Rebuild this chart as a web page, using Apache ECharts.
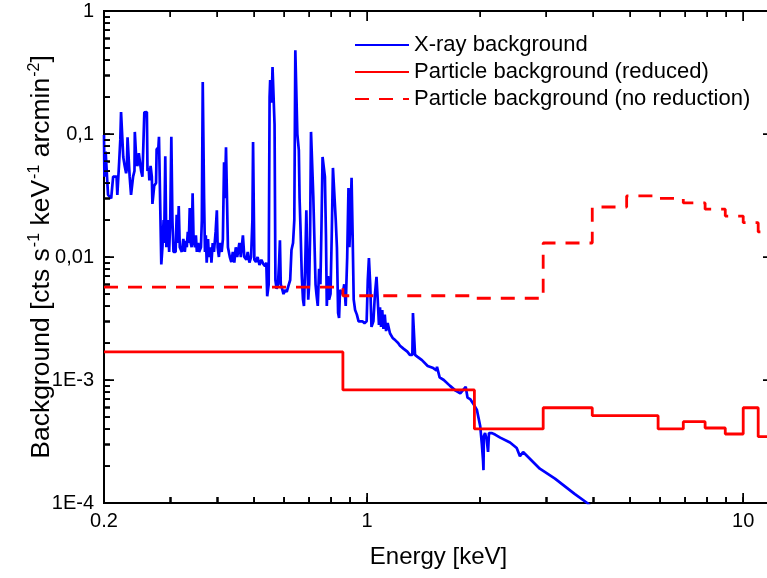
<!DOCTYPE html>
<html><head><meta charset="utf-8">
<script src="https://cdn.jsdelivr.net/npm/echarts@6/dist/echarts.min.js"></script>
<style>html,body{margin:0;padding:0;background:#fff}#c{width:767px;height:578px}</style>
</head><body><div id="c"></div>
<script>
// X-ray background spectrum (energy in keV, background in cts s^-1 keV^-1 arcmin^-2)
const xrayE = [
0.200,0.2005,0.202,0.204,0.205,0.209,0.211,0.2115,0.216,0.217,0.219,0.2195,0.221,0.222,0.224,0.225,0.227,0.229,0.230,0.231,
0.233,0.234,0.236,0.238,0.239,0.241,0.2415,0.243,0.2435,0.245,0.247,0.2475,0.250,0.251,0.253,0.255,0.256,0.260,0.261,0.263,
0.264,0.266,0.268,0.269,0.271,0.272,0.275,0.276,0.279,0.280,0.283,0.284,0.286,0.288,0.289,0.291,0.293,0.296,0.298,0.300,
0.302,0.304,0.306,0.308,
0.310,0.312,0.314,0.316,0.318,0.322,0.325,0.328,0.330,0.332,0.334,0.336,0.338,0.340,0.342,0.344,0.346,0.349,0.351,0.353,
0.356,0.358,0.362,0.364,0.366,0.368,0.369,0.371,0.373,0.375,0.378,0.380,0.384,0.386,0.389,0.392,0.396,0.399,0.401,0.404,
0.407,0.411,0.414,0.417,0.419,0.422,0.425,0.427,0.432,0.436,0.440,0.444,0.448,0.452,0.458,0.462,0.468,0.472,0.478,0.482,
0.487,0.492,0.496,0.498,0.500,0.502,0.507,0.512,0.518,0.524,0.530,0.536,0.540,0.543,0.546,0.548,0.551,0.553,0.556,0.558,
0.561,0.566,0.568,0.571,0.575,0.580,0.584,0.587,0.590,0.595,0.600,0.606,0.612,0.618,0.625,0.630,0.636,0.641,0.645,0.650,
0.653,0.659,0.662,0.666,0.671,0.676,0.680,0.686,0.690,0.694,0.698,0.702,0.706,0.710,0.716,0.720,0.726,0.730,0.734,0.740,
0.746,0.752,0.757,0.762,0.769,0.773,0.778,0.782,0.788,0.793,0.800,0.806,0.812,0.822,0.826,0.832,0.838,0.843,0.848,0.855,
0.862,0.870,0.878,0.886,0.893,0.898,0.904,0.910,0.916,0.922,0.930,0.940,0.950,0.960,0.972,0.985,0.998,1.005,1.012,1.020,
1.028,1.040,1.050,1.060,1.068,1.076,1.083,1.090,1.098,1.106,1.115,1.124,1.135,1.151,1.17,1.19,1.21,1.224,1.25,1.28,
1.30,1.32,1.325,1.334,1.342,1.36,1.40,1.45,1.50,1.53,1.535,1.56,1.60,1.66,1.72,1.77,1.83,1.85,1.88,1.93,
1.96,2.00,2.02,2.035,2.04,2.045,2.06,2.08,2.098,2.11,2.15,2.19,2.26,2.40,2.50,2.55,2.60,2.88,3.16,3.57,
3.85,4.5
];
const xrayBg = [
0.098,0.045,0.072,0.072,0.032,0.030,0.031,0.045,0.045,0.032,0.032,0.060,0.090,0.151,0.151,0.065,0.055,0.048,0.052,0.094,
0.094,0.045,0.032,0.031,0.045,0.050,0.104,0.104,0.065,0.055,0.058,0.070,0.070,0.050,0.045,0.045,0.150,0.151,0.050,0.053,
0.042,0.055,0.045,0.027,0.027,0.038,0.040,0.075,0.078,0.095,0.095,0.0087,0.012,0.020,0.013,0.066,0.012,0.020,0.011,0.020,
0.095,0.020,0.011,0.011,
0.011,0.022,0.013,0.026,0.012,0.011,0.014,0.011,0.0135,0.012,0.016,0.013,0.025,0.013,0.012,0.033,0.014,0.012,0.015,0.011,
0.013,0.011,0.012,0.020,0.265,0.265,0.030,0.011,0.015,0.009,0.014,0.010,0.012,0.009,0.013,0.011,0.016,0.024,0.012,0.010,
0.013,0.011,0.014,0.059,0.030,0.078,0.078,0.012,0.010,0.0091,0.011,0.009,0.012,0.010,0.013,0.010,0.015,0.010,0.0095,0.011,
0.009,0.010,0.020,0.086,0.086,0.0095,0.0091,0.010,0.0086,0.0095,0.0088,0.0084,0.009,0.0048,0.0047,0.006,0.20,0.275,0.275,0.18,
0.35,0.35,0.12,0.0065,0.0055,0.006,0.009,0.0137,0.006,0.0055,0.005,0.0054,0.0052,0.0058,0.0065,0.0114,0.013,0.020,0.48,0.48,
0.10,0.074,0.030,0.0166,0.007,0.0045,0.004,0.010,0.024,0.010,0.0045,0.006,0.015,0.104,0.104,0.031,0.030,0.006,0.005,0.004,
0.008,0.006,0.018,0.065,0.065,0.045,0.015,0.004,0.007,0.0045,0.005,0.015,0.053,0.053,0.020,0.012,0.0035,0.0032,0.0054,0.0055,
0.005,0.006,0.004,0.010,0.0364,0.012,0.020,0.044,0.015,0.0045,0.0037,0.0034,0.0030,0.0031,0.0030,0.0029,0.0030,0.0065,0.0098,0.006,
0.0027,0.0030,0.0050,0.0069,0.0045,0.0028,0.0039,0.0027,0.0037,0.0026,0.0034,0.0025,0.0029,0.0024,0.0022,0.0021,0.0020,0.0019,0.0018,0.0017,
0.0016,0.0016,0.0035,0.0035,0.0016,0.00155,0.00145,0.0013,0.00125,0.0012,0.00128,0.00105,0.0010,0.0009,0.00082,0.00078,0.00088,0.00072,0.00070,0.00062,
0.00057,0.00042,0.00030,0.00022,0.000185,0.00035,0.00037,0.00033,0.00026,0.00037,0.00037,0.00036,0.00034,0.00031,0.00028,0.00024,0.00026,0.00019,0.000158,0.000118,
0.0001,0.00006
];
// Particle background, reduced (bin start energies and levels)
const reducedE  = [0.2, 0.863, 1.93, 2.94, 3.97, 5.94, 6.93, 7.92, 8.96, 10.0, 10.96, 12];
const reducedBg = [1.69e-3, 8.3e-4, 4.0e-4, 5.95e-4, 5.13e-4, 4.0e-4, 4.58e-4, 4.07e-4, 3.64e-4, 5.95e-4, 3.46e-4, 3.46e-4];
// Particle background, no reduction
const noRedE  = [0.2, 0.863, 1.93, 2.94, 3.97, 4.9, 5.94, 6.93, 7.92, 8.96, 10.0, 10.96, 12];
const noRedBg = [0.0057, 0.00484, 0.00462, 0.0130, 0.0255, 0.0314, 0.0300, 0.0275, 0.0245, 0.0215, 0.0190, 0.0160, 0.0160];

const seriesNames = ['X-ray background', 'Particle background (reduced)', 'Particle background (no reduction)'];
// Axis ticks and labels
const xTickValues = [0.2, 1, 10];
const xTickLabels = ['0.2', '1', '10'];
const xMajorTicks = [1, 10];
const xMinorTicks = [0.3,0.4,0.5,0.6,0.7,0.8,0.9,2,3,4,5,6,7,8,9];
const yTickValues = [1, 0.1, 0.01, 0.001, 0.0001];
const yTickLabels = ['1', '0,1', '0,01', '1E-3', '1E-4'];
const yMajorTicks = [0.1, 0.01, 0.001];
const yMinorTicks = [];
[1e-4, 1e-3, 1e-2, 1e-1].forEach(d => { for (let k = 2; k <= 9; k++) yMinorTicks.push(+(d * k).toPrecision(3)); });

const X_MIN = 0.2, X_MAX = 12, Y_MIN = 0.0001, Y_MAX = 1;
const FONT = '"Liberation Sans", Arial, sans-serif';
function fmt(values, labels) {
  return v => {
    const i = values.findIndex(t => Math.abs(Math.log10(t) - Math.log10(v)) < 1e-6);
    return i >= 0 ? labels[i] : '';
  };
}
// Tick marks on all four sides, drawn through the axes' own scales (value, length)
function xTickRender(params, api) {
  const v = api.value(0), len = api.value(2);
  const b = api.coord([v, Y_MIN]), t = api.coord([v, Y_MAX]);
  const x = Math.round(b[0]) + 0.25;
  return { type: 'group', children: [
    { type: 'line', shape: { x1: x, y1: b[1], x2: x, y2: b[1] - len }, style: { stroke: '#000', lineWidth: 1.5 } },
    { type: 'line', shape: { x1: x, y1: t[1], x2: x, y2: t[1] + len }, style: { stroke: '#000', lineWidth: 1.5 } }
  ] };
}
function yTickRender(params, api) {
  const v = api.value(1), len = api.value(2);
  const l = api.coord([X_MIN, v]), r = api.coord([X_MAX, v]);
  const y = Math.round(l[1]) + 0.25;
  return { type: 'group', children: [
    { type: 'line', shape: { x1: l[0], y1: y, x2: l[0] + len, y2: y }, style: { stroke: '#000', lineWidth: 1.5 } },
    { type: 'line', shape: { x1: r[0], y1: y, x2: r[0] - len, y2: y }, style: { stroke: '#000', lineWidth: 1.5 } }
  ] };
}
const xTickData = xMajorTicks.map(v => [v, 0.001, 10]).concat(xMinorTicks.map(v => [v, 0.001, 6]));
const yTickData = yMajorTicks.map(v => [1, v, 10]).concat(yMinorTicks.map(v => [1, v, 6]));

const chart = echarts.init(document.getElementById('c'), null, { renderer: 'canvas' });
chart.setOption({
  animation: false,
  grid: { left: 104, top: 11, width: 669, height: 492, outerBoundsMode: 'none',
          show: true, borderColor: '#000', borderWidth: 2, backgroundColor: 'rgba(0,0,0,0)' },
  legend: {
    orient: 'vertical', left: 349, top: 29, itemWidth: 54, itemHeight: 14, itemGap: 5,
    itemStyle: { color: 'rgba(0,0,0,0)', borderColor: 'rgba(0,0,0,0)', borderWidth: 0 },
    textStyle: { fontSize: 22, color: '#000', fontFamily: FONT, lineHeight: 22 },
    data: seriesNames
  },
  xAxis: {
    type: 'log', min: X_MIN, max: X_MAX,
    splitLine: { show: false },
    axisLine: { show: true, onZero: false, lineStyle: { color: '#000', width: 2 } },
    axisTick: { show: true, inside: true, length: 6, customValues: xMajorTicks.concat(xMinorTicks),
                lineStyle: { color: '#000', width: 1.5 } },
    axisLabel: { show: true, customValues: xTickValues, formatter: fmt(xTickValues, xTickLabels),
                 fontSize: 20, color: '#000', fontFamily: FONT, margin: 8 },
    name: 'Energy [keV]', nameLocation: 'middle', nameGap: 42, nameMoveOverlap: false,
    nameTextStyle: { fontSize: 24, color: '#000', fontFamily: FONT }
  },
  yAxis: {
    type: 'log', min: Y_MIN, max: Y_MAX,
    splitLine: { show: false },
    axisLine: { show: true, onZero: false, lineStyle: { color: '#000', width: 2 } },
    axisTick: { show: true, inside: true, length: 6, customValues: yMajorTicks.concat(yMinorTicks),
                lineStyle: { color: '#000', width: 1.5 } },
    axisLabel: { show: true, customValues: yTickValues, formatter: fmt(yTickValues, yTickLabels),
                 fontSize: 20, color: '#000', fontFamily: FONT, margin: 10 },
    name: '{a|Background [cts s}{s|-1}{a| keV}{s|-1}{a| arcmin}{s|-2}{a|]}',
    nameLocation: 'middle', nameGap: 46, nameRotate: 90, nameMoveOverlap: false,
    nameTextStyle: {
      fontFamily: FONT, color: '#000',
      rich: {
        a: { fontSize: 26.5, fontFamily: FONT, color: '#000', lineHeight: 32 },
        s: { fontSize: 16, fontFamily: FONT, color: '#000', verticalAlign: 'top', lineHeight: 32, padding: [1, 0, 0, 1] }
      }
    }
  },
  series: [
    { name: seriesNames[0], type: 'line', showSymbol: false, symbol: 'none',
      lineStyle: { color: '#0000ff', width: 2.7 }, itemStyle: { color: '#0000ff' },
      data: xrayE.map((e, i) => [e, xrayBg[i]]) },
    { name: seriesNames[1], type: 'line', step: 'end', showSymbol: false, symbol: 'none',
      lineStyle: { color: '#ff0000', width: 2.8 }, itemStyle: { color: '#ff0000' },
      data: reducedE.map((e, i) => [e, reducedBg[i]]) },
    { name: seriesNames[2], type: 'line', step: 'end', showSymbol: false, symbol: 'none',
      lineStyle: { color: '#ff0000', width: 2.8, type: [14, 10] }, itemStyle: { color: '#ff0000' },
      data: noRedE.map((e, i) => [e, noRedBg[i]]) },
    { name: 'xticks', type: 'custom', silent: true, clip: false, z: 5,
      renderItem: xTickRender, data: xTickData },
    { name: 'yticks', type: 'custom', silent: true, clip: false, z: 5,
      renderItem: yTickRender, data: yTickData }
  ]
});

// Extra safety: tick marks as graphic lines placed through the axes' scales
try {
  const xPix = v => chart.convertToPixel({ xAxisIndex: 0 }, v);
  const yPix = v => chart.convertToPixel({ yAxisIndex: 0 }, v);
  const gx0 = xPix(X_MIN), gx1 = xPix(X_MAX), gy0 = yPix(Y_MIN), gy1 = yPix(Y_MAX);
  const ok = [gx0, gx1, gy0, gy1].every(n => typeof n === 'number' && isFinite(n));
  if (ok) {
    const els = [];
    const add = (a, b, c, d) => els.push({ type: 'line', silent: true, z: 10,
      shape: { x1: a, y1: b, x2: c, y2: d }, style: { stroke: '#000', lineWidth: 1.5 } });
    [[xMajorTicks, 10], [xMinorTicks, 6]].forEach(([arr, len]) => arr.forEach(v => {
      const p = xPix(v);
      if (isFinite(p) && p >= gx0 && p <= gx1) {
        const q = Math.round(p) + 0.25;
        add(q, gy0, q, gy0 - len); add(q, gy1, q, gy1 + len);
      }
    }));
    [[yMajorTicks, 10], [yMinorTicks, 6]].forEach(([arr, len]) => arr.forEach(v => {
      const p = yPix(v);
      if (isFinite(p) && p <= gy0 && p >= gy1) {
        const q = Math.round(p) + 0.25;
        add(gx0, q, gx0 + len, q); add(gx1, q, gx1 - len, q);
      }
    }));
    chart.setOption({ graphic: { elements: els } });
  }
} catch (e) { /* ticks are optional decoration */ }
</script></body></html>
